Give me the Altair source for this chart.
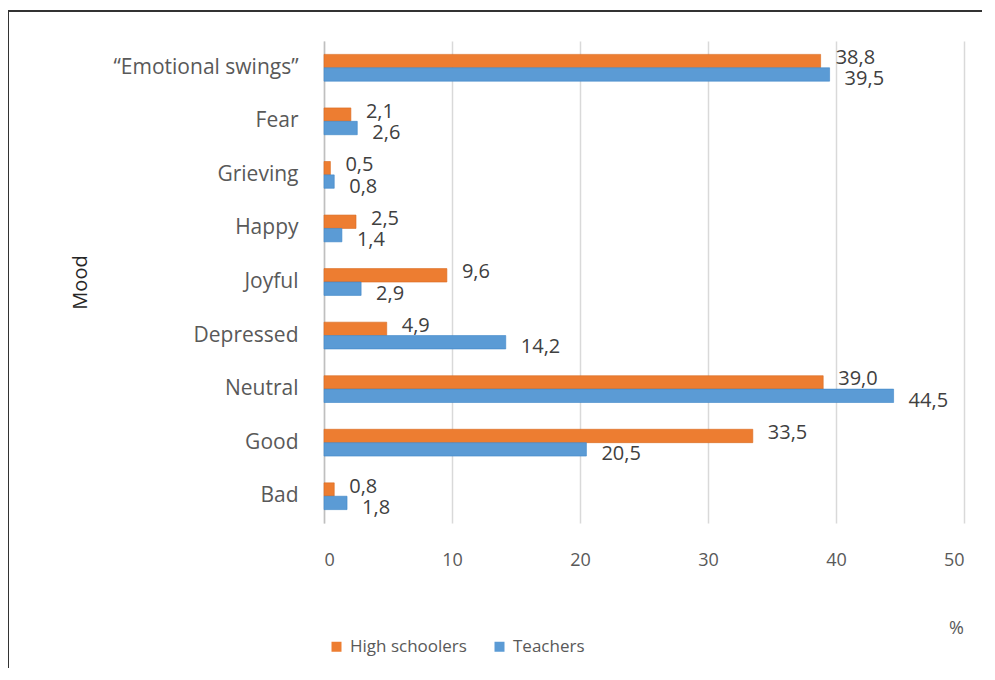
import altair as alt
import pandas as pd

categories = ["“Emotional swings”", "Fear", "Grieving", "Happy", "Joyful",
              "Depressed", "Neutral", "Good", "Bad"]
high_schoolers = [38.8, 2.1, 0.5, 2.5, 9.6, 4.9, 39.0, 33.5, 0.8]
teachers = [39.5, 2.6, 0.8, 1.4, 2.9, 14.2, 44.5, 20.5, 1.8]
series = ["High schoolers", "Teachers"]
colors = ["#ED7D31", "#5B9BD5"]
x_ticks = [0, 10, 20, 30, 40, 50]

rows = []
for c, h, t in zip(categories, high_schoolers, teachers):
    rows.append({"mood": c, "series": series[0], "value": h})
    rows.append({"mood": c, "series": series[1], "value": t})
df = pd.DataFrame(rows)
df["label"] = df["value"].map(lambda v: f"{v:.1f}".replace(".", ","))

FONT = "Open Sans"
TXT = "#595959"

y_enc = alt.Y("mood:N", sort=categories,
              scale=alt.Scale(paddingInner=0.5, paddingOuter=0.25),
              axis=alt.Axis(title="Mood", titleAngle=-90, titleX=-244, titleY=241,
                            titleBaseline="middle", titleAlign="center",
                            titleFontSize=20, titleFontWeight="normal", titleColor="#262626",
                            titleFont=FONT, labelFont=FONT, labelFontSize=21,
                            labelLimit=400,
                            labelColor=TXT, labelPadding=26, ticks=False,
                            domainColor="#bfbfbf", domainWidth=1.5))
x_enc = alt.X("value:Q", scale=alt.Scale(domain=[0, 50], nice=False),
              axis=alt.Axis(values=x_ticks, title="%", titleX=632, titleY=105,
                            titleAlign="center", titleBaseline="middle",
                            titleFontSize=18, titleFontWeight="normal", titleColor=TXT,
                            titleFont=FONT, labelFont=FONT, labelFontSize=18,
                            labelColor=TXT, labelPadding=28, ticks=False, domain=False,
                            grid=True, gridColor="#d9d9d9", gridWidth=1.5))
color_enc = alt.Color("series:N", scale=alt.Scale(domain=series, range=colors),
                      legend=alt.Legend(orient="none", legendX=4, legendY=597,
                                        direction="horizontal", title=None,
                                        symbolType="square", symbolSize=100,
                                        labelFont=FONT, labelFontSize=17,
                                        labelColor=TXT, columnPadding=24, labelOffset=5,
                                        symbolStrokeWidth=0))
yoff = alt.YOffset("series:N", sort=series, scale=alt.Scale(domain=series))

bars = alt.Chart(df).mark_bar(strokeWidth=1, strokeOpacity=0.6).encode(
    x=x_enc, y=y_enc, yOffset=yoff, color=color_enc,
    stroke=alt.Stroke("series:N", scale=alt.Scale(domain=series, range=["#D9691E", "#3F87C8"]), legend=None)
)

text_hs = alt.Chart(df).transform_filter(alt.datum.series == series[0]).mark_text(
    align="left", baseline="middle", dx=15, dy=-3, font=FONT, fontSize=20, color="#404040"
).encode(x="value:Q", y=alt.Y("mood:N", sort=categories), yOffset=yoff, text="label:N")

text_t = alt.Chart(df).transform_filter(alt.datum.series == series[1]).mark_text(
    align="left", baseline="middle", dx=15, dy=5, font=FONT, fontSize=20, color="#404040"
).encode(x="value:Q", y=alt.Y("mood:N", sort=categories), yOffset=yoff, text="label:N")

frame = alt.Chart(pd.DataFrame({"f": [0]})).mark_rect(
    fill=None, stroke="#333333", strokeWidth=2, clip=False
).encode(x=alt.value(-316), x2=alt.value(720), y=alt.value(-30), y2=alt.value(700))

chart = alt.layer(frame, bars, text_hs, text_t).properties(
    width=640, height=482,
    autosize=alt.AutoSizeParams(type="none"),
    padding={"left": 316, "top": 33, "right": 18, "bottom": 145},
).configure_view(stroke=None)

chart.save("out.html", embed_options={"renderer": "svg", "actions": False})
